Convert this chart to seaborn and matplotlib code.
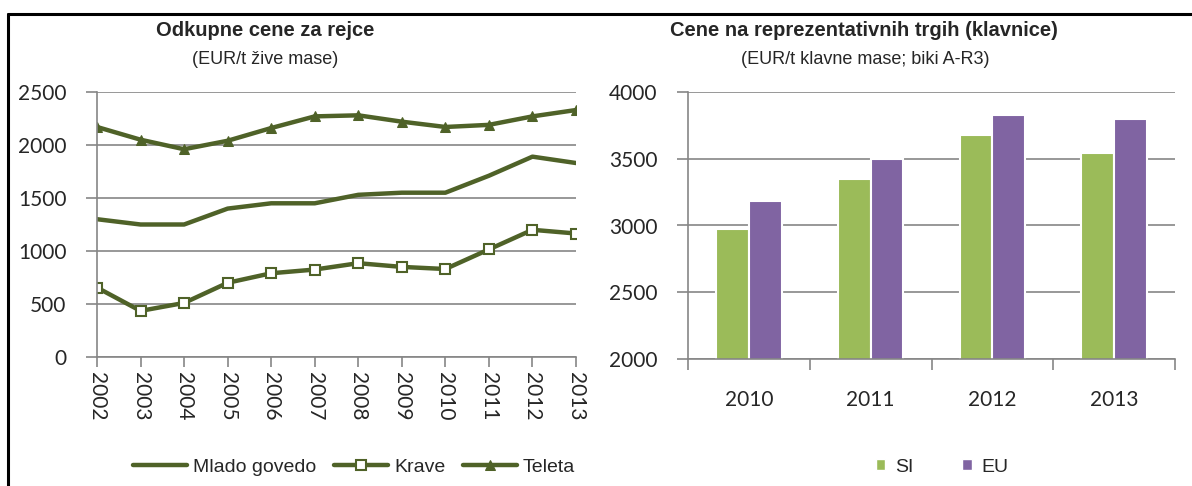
import numpy as np
import pandas as pd
import matplotlib
matplotlib.use("Agg")
import matplotlib.pyplot as plt
import seaborn as sns
from matplotlib.lines import Line2D
from matplotlib.patches import Patch

# left chart: purchase prices (EUR/t live weight)
years = [2002, 2003, 2004, 2005, 2006, 2007, 2008, 2009, 2010, 2011, 2012, 2013]
mlado_govedo = [1300, 1250, 1250, 1400, 1450, 1450, 1530, 1550, 1550, 1710, 1890, 1830]
krave = [655, 435, 510, 700, 790, 825, 885, 850, 830, 1015, 1200, 1165]
teleta = [2170, 2050, 1960, 2040, 2160, 2270, 2280, 2220, 2170, 2190, 2270, 2330]

# right chart: representative market prices (EUR/t carcass weight)
bar_years = ["2010", "2011", "2012", "2013"]
si_prices = [2975, 3350, 3680, 3545]
eu_prices = [3185, 3500, 3830, 3800]

OLIVE = "#4F6228"
GREEN = "#9BBB59"
PURPLE = "#8064A2"
GRID = "#868686"
TICK_FONT = ["Lato", "DejaVu Sans"]
TEXT_FONT = ["Liberation Sans", "DejaVu Sans"]

sns.set_theme(style="white")
plt.rcParams["font.family"] = TEXT_FONT

W, H = 1192, 486
fig = plt.figure(figsize=(W / 100, H / 100), dpi=100)


def px_axes(x0, x1, y0, y1):
    # axes rectangle given in pixel coords of the reference (top-left origin)
    return fig.add_axes([x0 / W, 1 - y1 / H, (x1 - x0) / W, (y1 - y0) / H])


def style_axes(ax):
    for s in ["top", "right"]:
        ax.spines[s].set_visible(False)
    for s in ["left", "bottom"]:
        ax.spines[s].set_color(GRID)
        ax.spines[s].set_linewidth(1.2)
    ax.yaxis.grid(True, color=GRID, linewidth=1.2)
    ax.set_axisbelow(True)
    ax.tick_params(axis="y", length=8, width=1.2, color=GRID, pad=14, left=True)
    for lab in ax.get_yticklabels():
        lab.set_fontfamily(TICK_FONT)
        lab.set_fontsize(15)
    ax.set_xlabel("")
    ax.set_ylabel("")


# ---- left: line chart
ax1 = px_axes(97, 576, 92, 357)
line_kw = dict(color=OLIVE, linewidth=3.2, ax=ax1)
sns.lineplot(x=years, y=mlado_govedo, label="Mlado govedo", **line_kw)
sns.lineplot(x=years, y=krave, label="Krave", marker="s", markersize=6.5,
             markerfacecolor="white", markeredgecolor=OLIVE, markeredgewidth=1.5, **line_kw)
sns.lineplot(x=years, y=teleta, label="Teleta", marker="^", markersize=7.5,
             markerfacecolor=OLIVE, markeredgecolor=OLIVE, **line_kw)
handles, labels = ax1.get_legend_handles_labels()
ax1.get_legend().remove()
ax1.set_xlim(years[0], years[-1])
ax1.set_ylim(0, 2500)
ax1.set_yticks(range(0, 2501, 500))
ax1.set_xticks(years)
ax1.set_xticklabels([str(y) for y in years], rotation=270, fontsize=15, family=TICK_FONT)
ax1.tick_params(axis="x", length=7, width=1.2, color=GRID, pad=4, bottom=True)
style_axes(ax1)

fig.text(265 / W, 1 - 30 / H, "Odkupne cene za rejce", ha="center", va="center",
         fontsize=14.5, fontweight="bold")
fig.text(265 / W, 1 - 59 / H, "(EUR/t žive mase)", ha="center", va="center", fontsize=13)

fig.legend(handles, labels, loc="center", bbox_to_anchor=(354 / W, 1 - 467 / H),
           ncol=3, frameon=False, fontsize=14, handlelength=2.8, handletextpad=0.3,
           columnspacing=0.9)

# ---- right: grouped bars
ax2 = px_axes(688, 1175, 92, 359)
bars = pd.DataFrame({
    "year": bar_years * 2,
    "price": si_prices + eu_prices,
    "series": ["SI"] * len(bar_years) + ["EU"] * len(bar_years),
})
sns.barplot(data=bars, x="year", y="price", hue="series", palette=[GREEN, PURPLE],
            saturation=1, width=0.54, edgecolor="white", linewidth=1.5, ax=ax2,
            legend=False)
ax2.set_ylim(2000, 4000)
ax2.set_yticks(range(2000, 4001, 500))
ax2.set_xlim(-0.5, len(bar_years) - 0.5)
ax2.set_xticks(np.arange(-0.5, len(bar_years)), minor=True)
ax2.tick_params(axis="x", which="minor", length=8, width=1.2, color=GRID, bottom=True)
ax2.tick_params(axis="x", which="major", length=0, pad=22)
for lab in ax2.get_xticklabels():
    lab.set_fontfamily(TICK_FONT)
    lab.set_fontsize(15)
style_axes(ax2)

fig.text(864 / W, 1 - 30 / H, "Cene na reprezentativnih trgih (klavnice)", ha="center",
         va="center", fontsize=14.5, fontweight="bold")
fig.text(865 / W, 1 - 59 / H, "(EUR/t klavne mase; biki A-R3)", ha="center", va="center",
         fontsize=13)

bar_handles = [Patch(facecolor=GREEN, label="SI"), Patch(facecolor=PURPLE, label="EU")]
fig.legend(handles=bar_handles, loc="center", bbox_to_anchor=(942 / W, 1 - 467 / H),
           ncol=2, frameon=False, fontsize=14, handlelength=0.5, handleheight=0.5,
           handletextpad=0.5, columnspacing=2.5)

# outer frame: top and left edges only
fig.add_artist(Line2D([8 / W, 1], [1 - 14 / H] * 2, transform=fig.transFigure,
                      color="black", linewidth=2.2))
fig.add_artist(Line2D([8 / W, 8 / W], [0, 1 - 14 / H], transform=fig.transFigure,
                      color="black", linewidth=2.2))

fig.savefig("out.png", dpi=100)
